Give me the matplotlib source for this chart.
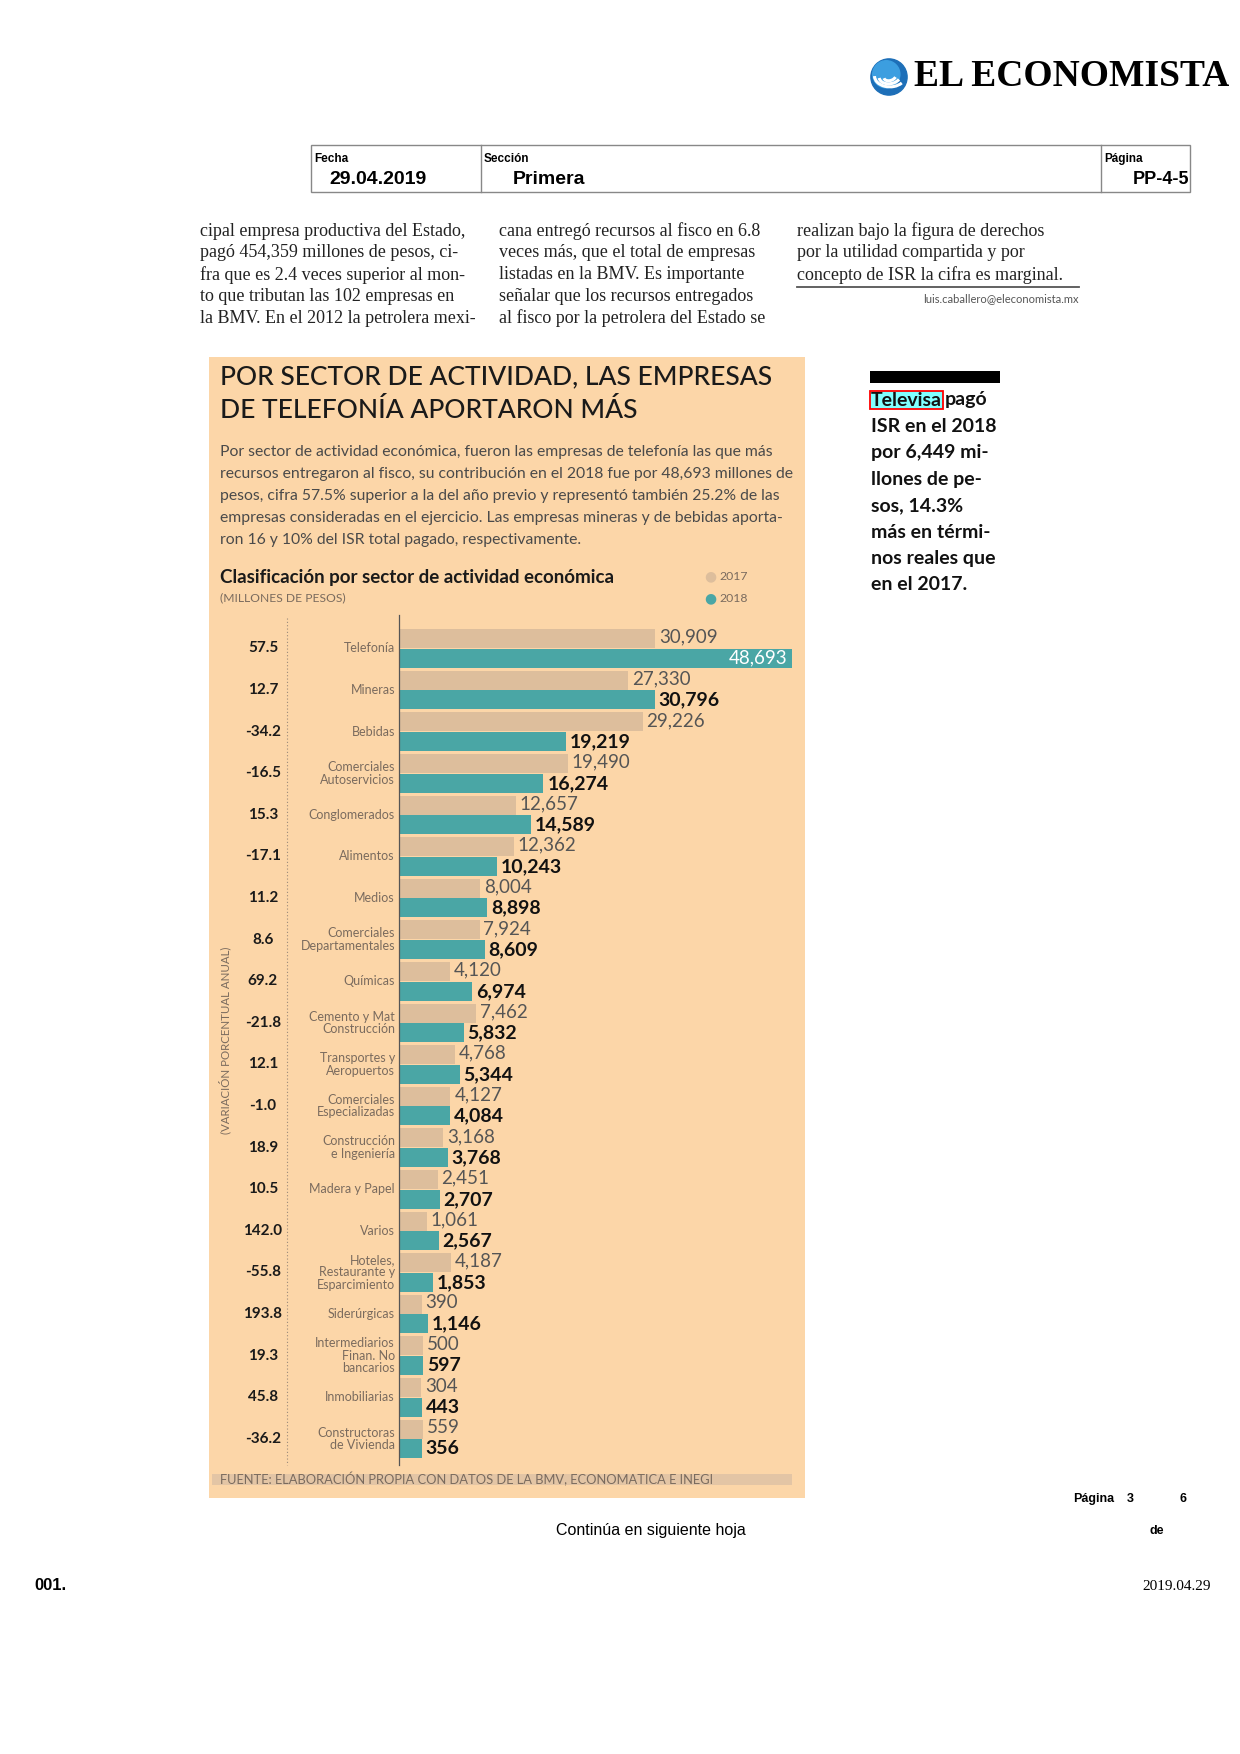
import numpy as np
import matplotlib
matplotlib.use("Agg")
import matplotlib.pyplot as plt
from matplotlib.patches import Rectangle, Circle, Arc
from matplotlib.lines import Line2D
from matplotlib.transforms import blended_transform_factory

# data (millones de pesos)
sectores = ["Telefonía", "Mineras", "Bebidas", "Comerciales\nAutoservicios", "Conglomerados",
            "Alimentos", "Medios", "Comerciales\nDepartamentales", "Químicas",
            "Cemento y Mat\nConstrucción", "Transportes y\nAeropuertos", "Comerciales\nEspecializadas",
            "Construcción\ne Ingeniería", "Madera y Papel", "Varios",
            "Hoteles,\nRestaurante y\nEsparcimiento", "Siderúrgicas",
            "Intermediarios\nFinan. No\nbancarios", "Inmobiliarias", "Constructoras\nde Vivienda"]
isr_2017 = [30909, 27330, 29226, 19490, 12657, 12362, 8004, 7924, 4120, 7462,
            4768, 4127, 3168, 2451, 1061, 4187, 390, 500, 304, 559]
isr_2018 = [48693, 30796, 19219, 16274, 14589, 10243, 8898, 8609, 6974, 5832,
            5344, 4084, 3768, 2707, 2567, 1853, 1146, 597, 443, 356]
variacion = [57.5, 12.7, -34.2, -16.5, 15.3, -17.1, 11.2, 8.6, 69.2, -21.8,
             12.1, -1.0, 18.9, 10.5, 142.0, -55.8, 193.8, 19.3, 45.8, -36.2]

W, H = 1240, 1754
PANEL = "#FCD6A8"
C17 = "#DDBE9C"
C18 = "#4AA6A5"
GREY = "#7a6b5e"
SANS = "Lato"
SERIF = "Liberation Serif"
ARIAL = "Liberation Sans"


def px(x, y):
    return x / W, 1 - y / H


fig = plt.figure(figsize=(W / 100, H / 100), dpi=100)

# ---- page header ----
logo = fig.add_axes([870 / W, 1 - 96 / H, 38 / W, 38 / H])
logo.set_aspect("equal")
logo.add_patch(Circle((0, 0), 1, color="#1d6fb8"))
logo.add_patch(Circle((-0.15, 0.15), 0.75, color="#3c9ee0"))
for r, a in [(0.85, 0), (0.6, 10), (0.35, 20)]:
    logo.add_patch(Arc((0.05, 0.05), 2 * r, 1.4 * r, angle=a, theta1=180, theta2=330, color="white", lw=2.2))
logo.set_xlim(-1.05, 1.05)
logo.set_ylim(-1.05, 1.05)
logo.axis("off")
fig.text(*px(914, 77), "EL ECONOMISTA", family=SERIF, weight="bold", fontsize=27, va="center", ha="left")

fig.add_artist(Rectangle(px(311, 192), (1190 - 311) / W, 47 / H, transform=fig.transFigure,
                         fill=False, edgecolor="#888888", lw=1))
for xx in [481, 1101]:
    fig.add_artist(Line2D([xx / W, xx / W], [1 - 145 / H, 1 - 192 / H], color="#888888", lw=1))
fig.text(*px(314, 159), "Fecha", family=ARIAL, weight="bold", fontsize=8.5, va="center")
fig.text(*px(378, 180), "29.04.2019", family=ARIAL, weight="bold", fontsize=14, va="center", ha="center")
fig.text(*px(484, 159), "Sección", family=ARIAL, weight="bold", fontsize=8.5, va="center")
fig.text(*px(513, 180), "Primera", family=ARIAL, weight="bold", fontsize=14, va="center")
fig.text(*px(1104, 159), "Página", family=ARIAL, weight="bold", fontsize=8.5, va="center")
fig.text(*px(1189, 180), "PP-4-5", family=ARIAL, weight="bold", fontsize=13, va="center", ha="right")

# ---- article text columns ----
col1 = ["cipal empresa productiva del Estado,", "pagó 454,359 millones de pesos, ci-",
        "fra que es 2.4 veces superior al mon-", "to que tributan las 102 empresas en",
        "la BMV. En el 2012 la petrolera mexi-"]
col2 = ["cana entregó recursos al fisco en 6.8", "veces más, que el total de empresas",
        "listadas en la BMV. Es importante", "señalar que los recursos entregados",
        "al fisco por la petrolera del Estado se"]
col3 = ["realizan bajo la figura de derechos", "por la utilidad compartida y por",
        "concepto de ISR la cifra es marginal."]
for x0, lines in [(200, col1), (499, col2), (797, col3)]:
    for i, line in enumerate(lines):
        fig.text(*px(x0, 231 + 21.8 * i), line, family=SERIF, fontsize=13, va="center", color="#222222")
fig.add_artist(Line2D([797 / W, 1079 / W], [1 - 287 / H, 1 - 287 / H], color="#555555", lw=1.3))
fig.text(*px(1079, 299), "luis.caballero@eleconomista.mx", family=SANS, fontsize=8,
         va="center", ha="right", color="#555555")

# ---- infographic panel ----
fig.add_artist(Rectangle(px(209, 1498), (805 - 209) / W, (1498 - 357) / H, transform=fig.transFigure,
                         facecolor=PANEL, edgecolor="none", zorder=-1))
fig.text(*px(220, 377), "POR SECTOR DE ACTIVIDAD, LAS EMPRESAS", family=SANS, weight="medium",
         fontsize=19, va="center", color="#1a1a1a")
fig.text(*px(220, 411), "DE TELEFONÍA APORTARON MÁS", family=SANS, weight="medium",
         fontsize=19, va="center", color="#1a1a1a")
parrafo = ["Por sector de actividad económica, fueron las empresas de telefonía las que más",
           "recursos entregaron al fisco, su contribución en el 2018 fue por 48,693 millones de",
           "pesos, cifra 57.5% superior a la del año previo y representó también 25.2% de las",
           "empresas consideradas en el ejercicio. Las empresas mineras y de bebidas aporta-",
           "ron 16 y 10% del ISR total pagado, respectivamente."]
for i, line in enumerate(parrafo):
    fig.text(*px(220, 452 + 22 * i), line, family=SANS, fontsize=11.3, va="center", color="#4a4a4a")
fig.text(*px(220, 577), "Clasificación por sector de actividad económica", family=SANS, weight="bold",
         fontsize=13.5, va="center", color="#1a1a1a")
fig.text(*px(220, 598), "(MILLONES DE PESOS)", family=SANS, fontsize=8.7,
         va="center", color=GREY)
for yy, lab, c in [(576, "2017", C17), (598, "2018", C18)]:
    fig.text(*px(710, yy), "\u25CF", fontsize=10, va="center", ha="center", color=c)
    fig.text(*px(719, yy), lab, family=SANS, fontsize=8.8, va="center", color=GREY)

# ---- bar chart ----
x0, x1, y0, y1 = 399, 805, 615, 1465
ax = fig.add_axes([x0 / W, 1 - y1 / H, (x1 - x0) / W, (y1 - y0) / H])
ax.set_facecolor("none")
stub = 2600  # bars start a little before zero, as in the original
y = np.arange(len(sectores))
v17 = np.array(isr_2017)
v18 = np.array(isr_2018)
ax.barh(y - 0.235, v17 + stub, left=-stub, height=0.46, color=C17)
ax.barh(y + 0.235, v18 + stub, left=-stub, height=0.46, color=C18)
ax.set_xlim(-stub, 50450)
ax.set_ylim((y1 - 648.5) / 41.6, (y0 - 648.5) / 41.6)
for s in ["top", "right", "bottom"]:
    ax.spines[s].set_visible(False)
ax.spines["left"].set_color("#555555")
ax.spines["left"].set_linewidth(0.9)
ax.set_xticks([])
ax.set_yticks([])

for i in range(len(sectores)):
    ax.text(v17[i] + 500, y[i] - 0.27, f"{v17[i]:,}", family=SANS, fontsize=13.5,
            va="center", ha="left", color="#555555")
    if i == 0:
        ax.text(v18[i] - 500, y[i] + 0.235, f"{v18[i]:,}", family=SANS, fontsize=13.5,
                va="center", ha="right", color="white")
    else:
        ax.text(v18[i] + 500, y[i] + 0.24, f"{v18[i]:,}", family=SANS, weight="bold", fontsize=14,
                va="center", ha="left", color="#111111")

tr = blended_transform_factory(ax.transAxes, ax.transData)
for i in range(len(sectores)):
    ax.text(-0.01, y[i], sectores[i], transform=tr, family=SANS, fontsize=9,
            ha="right", va="center", color=GREY, linespacing=1.05, multialignment="right")
    ax.text(-0.335, y[i], f"{variacion[i]:.1f}", transform=tr, family=SANS, weight="bold",
            fontsize=11, ha="center", va="center", color="#1a1a1a")

fig.add_artist(Line2D([287 / W, 287 / W], [1 - 618 / H, 1 - 1465 / H], color="#9a8a7a",
                      lw=0.8, ls=(0, (1, 2))))
fig.text(*px(225, 1040), "(VARIACIÓN PORCENTUAL ANUAL)", family=SANS, fontsize=8.3,
         rotation=90, va="center", ha="center", color=GREY)

fig.add_artist(Rectangle(px(212, 1485), (792 - 212) / W, 11 / H, transform=fig.transFigure,
                         facecolor="#E3C5A5", edgecolor="none", zorder=-0.5))
fig.text(*px(220, 1479), "FUENTE: ELABORACIÓN PROPIA CON DATOS DE LA BMV, ECONOMATICA E INEGI",
         family=SANS, fontsize=9.3, va="center", color=GREY)

# ---- side note ----
fig.add_artist(Rectangle(px(870, 383), 130 / W, 12 / H, transform=fig.transFigure,
                         facecolor="black", edgecolor="none"))
fig.text(*px(871, 400), "Televisa", family=SANS, weight="bold", fontsize=14, va="center", color="#111111",
         bbox=dict(boxstyle="square,pad=0.05", facecolor="#80FFFF", edgecolor="red", lw=1.3))
fig.text(*px(945, 400), "pagó", family=SANS, weight="bold", fontsize=14, va="center", color="#111111")
nota = ["ISR en el 2018", "por 6,449 mi-", "llones de pe-", "sos, 14.3%", "más en térmi-",
        "nos reales que", "en el 2017."]
for i, line in enumerate(nota):
    fig.text(*px(871, 426.4 + 26.4 * i), line, family=SANS, weight="bold", fontsize=14,
             va="center", color="#111111")

# ---- page footer ----
fig.text(*px(1073, 1499), "Página", family=ARIAL, weight="bold", fontsize=9, va="center")
fig.text(*px(1130, 1499), "3", family=ARIAL, weight="bold", fontsize=9, va="center", ha="center")
fig.text(*px(1183, 1499), "6", family=ARIAL, weight="bold", fontsize=9, va="center", ha="center")
fig.text(*px(1157, 1531), "de", family=ARIAL, weight="bold", fontsize=9, va="center", ha="center")
fig.text(*px(651, 1531), "Continúa en siguiente hoja", family=ARIAL, fontsize=11.5, va="center", ha="center")
fig.text(*px(34, 1586), "001.", family=ARIAL, weight="bold", fontsize=12, va="center")
fig.text(*px(1211, 1586), "2019.04.29", family=SERIF, fontsize=11, va="center", ha="right")

fig.savefig("out.png", dpi=100)
plt.close(fig)
